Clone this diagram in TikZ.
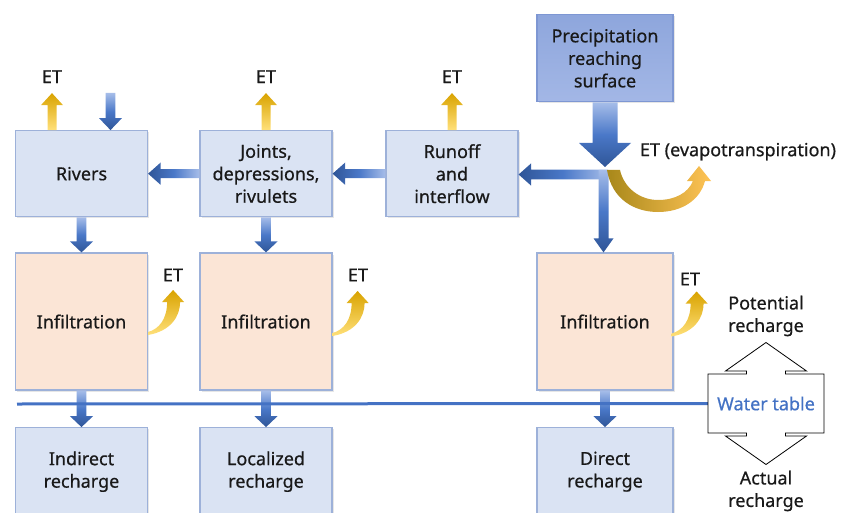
\documentclass[tikz,border=0pt]{standalone}
\usepackage{fontspec}
\setmainfont{Noto Sans}[FakeBold=0.6]
\usetikzlibrary{calc,positioning,shadows}

\definecolor{boxfill}{HTML}{DAE3F3}
\definecolor{boxedge}{HTML}{9DB1D9}
\definecolor{infilfill}{HTML}{FBE5D6}
\definecolor{precipA}{HTML}{8EA6DC}
\definecolor{precipB}{HTML}{A3B7E6}
\definecolor{precipedge}{HTML}{7E97D3}
\definecolor{flowlight}{HTML}{A6BDE9}
\definecolor{flowmid}{HTML}{4A78C8}
\definecolor{flowdark}{HTML}{2F5597}
\definecolor{etlight}{HTML}{FFE07A}
\definecolor{etdark}{HTML}{D9A300}
\definecolor{etolive}{HTML}{A8881A}
\definecolor{wtblue}{HTML}{4472C4}

% fat shaded arrows: from, to, shaft half width, head half width, head length
\newcommand{\flowdown}[5]{%
  \shade[top color=flowlight, bottom color=flowdark, middle color=flowmid]
    let \p1=(#1), \p2=(#2) in
    (\x1-#3,\y1) -- (\x1+#3,\y1) -- (\x1+#3,\y2+#5) -- (\x1+#4,\y2+#5)
    -- (\x1,\y2) -- (\x1-#4,\y2+#5) -- (\x1-#3,\y2+#5) -- cycle;}
\newcommand{\flowleft}[5]{%
  \shade[left color=flowdark, right color=flowlight, middle color=flowmid]
    let \p1=(#1), \p2=(#2) in
    (\x1,\y1+#3) -- (\x2+#5,\y1+#3) -- (\x2+#5,\y1+#4) -- (\x2,\y1)
    -- (\x2+#5,\y1-#4) -- (\x2+#5,\y1-#3) -- (\x1,\y1-#3) -- cycle;}
\newcommand{\etup}[5]{%
  \shade[bottom color=etlight, top color=etdark]
    let \p1=(#1), \p2=(#2) in
    (\x1-#3,\y1) -- (\x1-#3,\y2-#5) -- (\x1-#4,\y2-#5) -- (\x1,\y2)
    -- (\x1+#4,\y2-#5) -- (\x1+#3,\y2-#5) -- (\x1+#3,\y1) -- cycle;}

\begin{document}
\begin{tikzpicture}[x=1pt, y=-1pt,
    every node/.style={font=\fontsize{18}{22.5}\selectfont, align=center, text=black!90},
    box/.style={rectangle, draw=boxedge, line width=1.2pt, fill=boxfill, minimum width=132pt, minimum height=86pt,
        drop shadow={shadow xshift=1.5pt, shadow yshift=-1.5pt, opacity=0.2}},
    infil/.style={box, fill=infilfill, minimum height=137pt},
    recharge/.style={box, minimum height=88pt},
    etlabel/.style={inner sep=0pt, outer sep=10pt},
    wtline/.style={draw=wtblue, line width=3pt},
    etcurl/.pic={
        \shade[bottom color=etlight, top color=etdark]
            (0,1) .. controls (23,-3) and (32,-18) .. (32,-32) -- (36,-32) -- (25,-44) -- (14,-32) -- (19,-32)
            .. controls (19,-15) and (11,-5) .. (0,-2) -- cycle;
    }
]
\useasboundingbox (0,0) rectangle (853,513);
\clip (0,0) rectangle (853,513);

% Surface boxes
\node[box, minimum width=136pt, minimum height=87pt, draw=precipedge, top color=precipA, bottom color=precipB] (precip) at (605,58.3) {Precipitation\\reaching\\surface};
\node[box] (rivers) at (81.5,173.7) {Rivers};
\node[box] (joints) at (266,173.7) {Joints,\\depressions,\\rivulets};
\node[box] (runoff) at (452,173.7) {Runoff\\and\\interflow};

% Infiltration
\node[infil] (inf1) at (81.5,321.5) {Infiltration};
\node[infil] (inf2) at (266,321.5) {Infiltration};
\node[infil, minimum width=136pt] (inf3) at (605,321.5) {Infiltration};

% Recharge
\node[recharge] (indirect) at (81.5,471.7) {Indirect\\recharge};
\node[recharge] (localized) at (266,471.7) {Localized\\recharge};
\node[recharge, minimum width=136pt] (direct) at (605,471.7) {Direct\\recharge};

% ET labels
\node[etlabel] (etRiv) at (52,76.7) {ET};
\node[etlabel] (etJoi) at (266,76.7) {ET};
\node[etlabel] (etRun) at (452,76.7) {ET};
\node (etInf1) at (173,275) {ET};
\node (etInf2) at (358,275) {ET};
\node (etInf3) at (690,279) {ET};
\node (etMain) at (738,151.7) {ET (evapotranspiration)};

% ET arrows
\etup{rivers.north -| etRiv}{etRiv.south}{4.5}{11}{12}
\etup{joints.north -| etJoi}{etJoi.south}{4.5}{11}{12}
\etup{runoff.north -| etRun}{etRun.south}{4.5}{11}{12}
\pic at ($(inf1.east)+(0,12.5)$) {etcurl};
\pic at ($(inf2.east)+(0,13.5)$) {etcurl};
\pic at ($(inf3.east)+(-2,14)$) {etcurl};

% Flow arrows
\coordinate (rivin) at (110.5,93);
\coordinate (drop) at (605,167);
\coordinate (split) at (603.5,170);
\flowdown{rivin}{rivers.north}{4.8}{11.5}{12}
\flowleft{joints.west}{rivers.east}{4.5}{11.2}{12.6}
\flowleft{runoff.west}{joints.east}{4.5}{11.2}{12.6}
\flowleft{$(split)+(4,4.5)$}{runoff.east}{4.8}{11.2}{12.6}
\flowdown{split}{inf3.north}{5}{10}{14}
\flowdown{rivers.south}{inf1.north}{4.8}{11.6}{11}
\flowdown{joints.south}{inf2.north}{4.8}{11.6}{11}
\flowdown{inf1.south}{indirect.north}{4.8}{11.6}{11}
\flowdown{inf2.south}{localized.north}{4.8}{11.6}{11}
\flowdown{inf3.south}{direct.north}{4.8}{11.6}{11}
\flowdown{precip.south}{drop}{12.5}{26}{24}

% ET from surface
\shade[shift={(drop)}, left color=etolive, right color=etlight!70!orange]
    (2,3) .. controls (7,33) and (30,45) .. (53,45) .. controls (77,45) and (95,33) .. (100,14)
    -- (106,14) -- (94,-1) -- (82,14) -- (88,14)
    .. controls (83,26) and (70,33) .. (53,33) .. controls (35,33) and (19,21) .. (15,3) -- cycle;

% Water table
\node[minimum width=116pt, minimum height=59pt, inner sep=0pt, text=wtblue] (wt) at (766,403.5) {Water table};
\coordinate (wtleft) at (17,404);
\draw[wtline] (wtleft) -- (wt.west);
\draw[shift={(wt.center)}, line width=0.8pt]
    (-58,-29.5) -- (-19.5,-29.5) -- (-19.5,-32.5) -- (-40.5,-32.5) -- (0,-61) -- (40.5,-32.5) -- (19.5,-32.5)
    -- (19.5,-29.5) -- (58,-29.5) -- (58,29.5) -- (19.5,29.5) -- (19.5,32.5) -- (40.5,32.5) -- (0,61)
    -- (-40.5,32.5) -- (-19.5,32.5) -- (-19.5,29.5) -- (-58,29.5) -- cycle;
\node (potential) at (766,316) {Potential\\recharge};
\node (actual) at (766,491) {Actual\\recharge};
\end{tikzpicture}
\end{document}
